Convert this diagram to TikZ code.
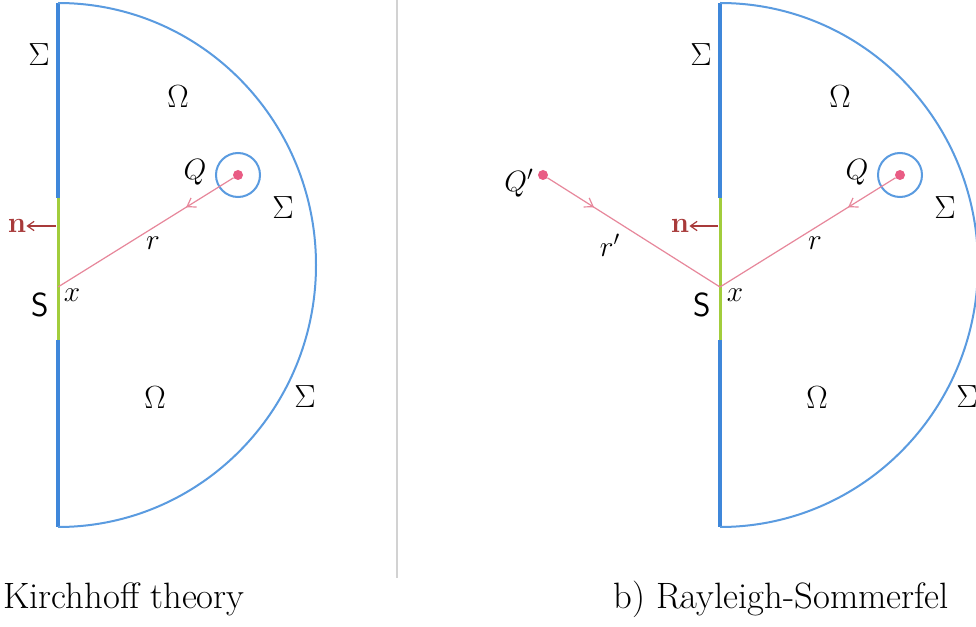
\RequirePackage{fix-cm}
\documentclass[tikz,border=0pt]{standalone}
\usepackage{amsmath,amssymb}
\usetikzlibrary{arrows.meta,decorations.markings}
\usepackage{xcolor}
\definecolor{wallblue}{HTML}{3F87DA}
\definecolor{arcblue}{HTML}{5A9BE0}
\definecolor{apgreen}{HTML}{A2CD3C}
\definecolor{raypink}{HTML}{E7879B}
\definecolor{dotpink}{HTML}{E95C84}
\definecolor{normred}{HTML}{A83A3A}

\begin{document}
\begin{tikzpicture}[x=0.75pt,y=0.75pt,line cap=butt,
  lbl/.style={inner sep=0pt,font=\fontsize{24}{28}\selectfont},
  mlbl/.style={inner sep=0pt,font=\fontsize{22}{26}\selectfont},
  slbl/.style={inner sep=0pt,font=\fontsize{25}{30}\selectfont\sffamily},
  caption/.style={inner sep=0pt,anchor=base west,font=\fontsize{27.5}{32}\selectfont},
  wall/.style={wallblue,line width=3.6pt},
  aperture/.style={apgreen,line width=2.25pt},
  bound/.style={arcblue,line width=1.5pt},
  ray/.style={raypink,line width=0.9pt,postaction={decorate},
    decoration={markings,mark=at position 0.27 with {\arrow{Straight Barb[length=6pt,width=8pt]}}}},
  normal/.style={normred,line width=0.9pt,-{Straight Barb[length=5pt,width=7pt]}},
  source/.style={circle,fill=dotpink,minimum size=7.5pt,inner sep=0pt}]
\useasboundingbox (0,0) rectangle (976,626);
\clip (0,0) rectangle (976,626);
\fill[white] (0,0) rectangle (976,626);

% separator
\draw[gray!35,line width=1.1pt] (397,626) -- (397,48);

% a) Kirchhoff
\draw[wall] (58,623) -- (58,428);
\draw[aperture] (58,428) -- (58,286);
\draw[wall] (58,286) -- (58,99);
\draw[bound] (58,623) arc[start angle=90,end angle=-90,x radius=193.5pt,y radius=196.5pt];
\draw[bound] (238,451) circle (16.5pt);
\node[source] (qa) at (238,451) {};
\coordinate (xa) at (58,339);
\draw[ray] (qa) -- (xa);
\node[mlbl] (qlbla) at (195,454) {$Q$};
\node[mlbl] (xlbla) at (72,331) {$x$};
\node[mlbl] (rlbla) at (153,383) {$r$};
\node[slbl] (sa) at (40,321) {S};
\node[mlbl,text=normred] (na) at (17,400) {$\mathbf{n}$};
\coordinate (nfoota) at (56,400);
\draw[normal] (nfoota) -- (na.east);
\node[lbl] (sigwalla) at (39,571) {$\Sigma$};
\node[lbl] (sigqa) at (283,418) {$\Sigma$};
\node[lbl] (sigarca) at (305,229) {$\Sigma$};
\node[lbl] (omtopa) at (178,529) {$\Omega$};
\node[lbl] (ombota) at (155,228) {$\Omega$};
\node[caption] (capa) at (3,18) {Kirchhoff theory};

% b) Rayleigh-Sommerfeld
\draw[wall] (720,623) -- (720,428);
\draw[aperture] (720,428) -- (720,286);
\draw[wall] (720,286) -- (720,99);
\draw[bound] (720,623) arc[start angle=90,end angle=-90,x radius=193.5pt,y radius=196.5pt];
\draw[bound] (900,451) circle (16.5pt);
\node[source] (qb) at (900,451) {};
\node[source] (qpb) at (543,451) {};
\coordinate (xb) at (720,339);
\draw[ray] (qb) -- (xb);
\draw[ray] (qpb) -- (xb);
\node[mlbl] (qlblb) at (857,454) {$Q$};
\node[mlbl] (qplblb) at (519,443) {$Q'$};
\node[mlbl] (xlblb) at (735,331) {$x$};
\node[mlbl] (rlblb) at (815,383) {$r$};
\node[mlbl] (rplblb) at (610,381) {$r'$};
\node[slbl] (sb) at (702,321) {S};
\node[mlbl,text=normred] (nb) at (680,400) {$\mathbf{n}$};
\coordinate (nfootb) at (718,400);
\draw[normal] (nfootb) -- (nb.east);
\node[lbl] (sigwallb) at (701,571) {$\Sigma$};
\node[lbl] (sigqb) at (945,418) {$\Sigma$};
\node[lbl] (sigarcb) at (967,229) {$\Sigma$};
\node[lbl] (omtopb) at (840,529) {$\Omega$};
\node[lbl] (ombotb) at (817,228) {$\Omega$};
\node[caption] (capb) at (613,18) {b) Rayleigh-Sommerfel};
\end{tikzpicture}
\end{document}
